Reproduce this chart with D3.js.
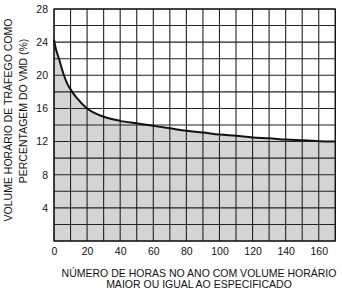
<!DOCTYPE html>
<html>
<head>
<meta charset="utf-8">
<script src="https://cdn.jsdelivr.net/npm/d3@7"></script>
<style>
  html, body { margin: 0; padding: 0; background: #fff; }
  svg { display: block; }
</style>
</head>
<body>
<svg id="chart" width="342" height="293" viewBox="0 0 342 293"></svg>
<script>
// horas no ano (x) e volume horário em % do VMD (y)
const hours = [0, 1, 2, 3, 4, 6, 8, 11, 14, 20, 25, 30, 40, 50, 60, 70, 80, 90, 100, 110, 120, 130, 140, 150, 160, 170];
const volumes = [24.3, 23.3, 22.6, 22.0, 21.3, 20.0, 19.0, 18.0, 17.2, 16.0, 15.4, 15.0, 14.5, 14.2, 13.9, 13.6, 13.3, 13.1, 12.85, 12.7, 12.5, 12.4, 12.25, 12.15, 12.05, 12.0];
const xTicks = [0, 20, 40, 60, 80, 100, 120, 140, 160];
const yTicks = [4, 8, 12, 16, 20, 24, 28];
const yTitle = ["VOLUME HORÁRIO DE TRÁFEGO COMO", "PERCENTAGEM DO VMD (%)"];
const xTitle = ["NÚMERO DE HORAS NO ANO COM VOLUME HORÁRIO", "MAIOR OU IGUAL AO ESPECIFICADO"];

const width = 342;
const height = 293;
const margin = { top: 9, right: 6.7, bottom: 52, left: 54 };
const w = width - margin.left - margin.right;
const h = height - margin.top - margin.bottom;
const font = "Liberation Sans, Arial, sans-serif";

const svg = d3.select("#chart");
const chart = svg.append("g").attr("transform", `translate(${margin.left}, ${margin.top})`);

const x = d3.scaleLinear().domain([0, 170]).range([0, w]);
const y = d3.scaleLinear().domain([0, 28]).range([h, 0]);

const data = hours.map((d, i) => ({ h: d, v: volumes[i] }));

// área sombreada sob a curva
chart.append("path")
  .datum(data)
  .attr("fill", "#d4d4d4")
  .attr("d", d3.area().x(d => x(d.h)).y0(h).y1(d => y(d.v)).curve(d3.curveMonotoneX));

// grade
chart.append("g")
  .selectAll("line")
  .data(d3.range(0, 171, 10))
  .join("line")
  .attr("x1", d => x(d)).attr("x2", d => x(d))
  .attr("y1", 0).attr("y2", h)
  .attr("stroke", "#222")
  .attr("stroke-width", 1.1);

chart.append("g")
  .selectAll("line")
  .data(d3.range(0, 29, 2))
  .join("line")
  .attr("x1", 0).attr("x2", w)
  .attr("y1", d => y(d)).attr("y2", d => y(d))
  .attr("stroke", "#222")
  .attr("stroke-width", 1.1);

chart.append("rect")
  .attr("width", w).attr("height", h)
  .attr("fill", "none")
  .attr("stroke", "#111")
  .attr("stroke-width", 1.2);

// curva
chart.append("path")
  .datum(data)
  .attr("fill", "none")
  .attr("stroke", "#111")
  .attr("stroke-width", 2)
  .attr("d", d3.line().x(d => x(d.h)).y(d => y(d.v)).curve(d3.curveMonotoneX));

// eixos
chart.append("g")
  .attr("transform", `translate(0, ${h})`)
  .call(d3.axisBottom(x).tickValues(xTicks).tickSize(0).tickPadding(7))
  .call(c => c.select(".domain").remove())
  .call(c => c.selectAll("text").attr("fill", "#111").attr("font-size", 10.5).attr("font-family", font));

chart.append("g")
  .call(d3.axisLeft(y).tickValues(yTicks).tickSize(0).tickPadding(6))
  .call(c => c.select(".domain").remove())
  .call(c => c.selectAll("text").attr("fill", "#111").attr("font-size", 10.5).attr("font-family", font));

// títulos
svg.selectAll(".ytitle")
  .data(yTitle)
  .join("text")
  .attr("class", "ytitle")
  .attr("transform", (d, i) => `translate(${12 + i * 14.5}, ${i === 0 ? 120 : 111}) rotate(-90)`)
  .attr("text-anchor", "middle")
  .attr("font-size", 10.5)
  .attr("font-family", font)
  .attr("fill", "#111")
  .text(d => d);

svg.selectAll(".xtitle")
  .data(xTitle)
  .join("text")
  .attr("class", "xtitle")
  .attr("x", 199)
  .attr("y", (d, i) => 277 + i * 11)
  .attr("text-anchor", "middle")
  .attr("font-size", 10.5)
  .attr("font-family", font)
  .attr("fill", "#111")
  .text(d => d);
</script>
</body>
</html>
